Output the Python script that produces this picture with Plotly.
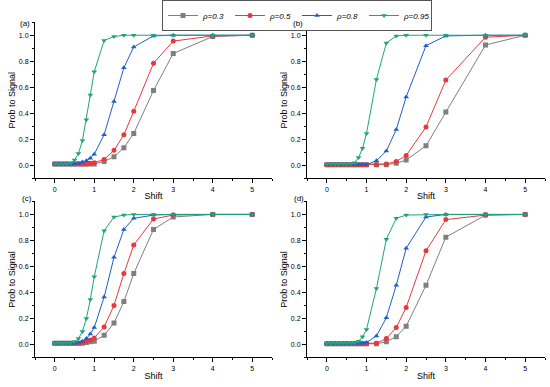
import plotly.graph_objects as go

shift = [0, 0.1, 0.2, 0.3, 0.4, 0.5, 0.6, 0.7, 0.8, 0.9, 1.0, 1.25, 1.5, 1.75, 2.0, 2.5, 3, 4, 5]
series_names = ["ρ=0.3", "ρ=0.5", "ρ=0.8", "ρ=0.95"]
panel_labels = ["(a)", "(b)", "(c)", "(d)"]

# panel (a)
a_r03 = [0.01, 0.01, 0.01, 0.01, 0.01, 0.01, 0.01, 0.01, 0.01, 0.01, 0.01, 0.03, 0.065, 0.135, 0.245, 0.575, 0.86, 0.99, 1.0]
a_r05 = [0.01, 0.01, 0.01, 0.01, 0.01, 0.01, 0.01, 0.01, 0.01, 0.015, 0.02, 0.045, 0.115, 0.235, 0.415, 0.785, 0.955, 0.995, 1.0]
a_r08 = [0.01, 0.01, 0.01, 0.01, 0.01, 0.01, 0.015, 0.025, 0.035, 0.055, 0.085, 0.235, 0.49, 0.75, 0.91, 0.995, 1.0, 1.0, 1.0]
a_r095 = [0.01, 0.01, 0.01, 0.01, 0.015, 0.04, 0.09, 0.19, 0.35, 0.54, 0.72, 0.96, 0.99, 1.0, 1.0, 1.0, 1.0, 1.0, 1.0]
# panel (b)
b_r03 = [0.005, 0.005, 0.005, 0.005, 0.005, 0.005, 0.005, 0.005, 0.005, 0.005, 0.005, 0.005, 0.005, 0.015, 0.04, 0.15, 0.41, 0.925, 1.0]
b_r05 = [0.005, 0.005, 0.005, 0.005, 0.005, 0.005, 0.005, 0.005, 0.005, 0.005, 0.005, 0.005, 0.01, 0.03, 0.075, 0.295, 0.655, 0.985, 1.0]
b_r08 = [0.005, 0.005, 0.005, 0.005, 0.005, 0.005, 0.005, 0.005, 0.005, 0.005, 0.005, 0.035, 0.11, 0.275, 0.525, 0.92, 0.995, 1.0, 1.0]
b_r095 = [0.01, 0.01, 0.01, 0.01, 0.01, 0.01, 0.01, 0.02, 0.06, 0.13, 0.245, 0.66, 0.94, 0.995, 1.0, 1.0, 1.0, 1.0, 1.0]
# panel (c)
c_r03 = [0.01, 0.01, 0.01, 0.01, 0.01, 0.01, 0.01, 0.01, 0.015, 0.02, 0.025, 0.07, 0.165, 0.33, 0.545, 0.885, 0.98, 1.0, 1.0]
c_r05 = [0.01, 0.01, 0.01, 0.01, 0.01, 0.01, 0.01, 0.015, 0.025, 0.035, 0.05, 0.135, 0.30, 0.545, 0.765, 0.965, 0.995, 1.0, 1.0]
c_r08 = [0.01, 0.01, 0.01, 0.01, 0.01, 0.01, 0.015, 0.025, 0.045, 0.08, 0.13, 0.365, 0.67, 0.885, 0.97, 0.995, 1.0, 1.0, 1.0]
c_r095 = [0.01, 0.01, 0.01, 0.01, 0.012, 0.02, 0.045, 0.10, 0.20, 0.345, 0.52, 0.875, 0.98, 0.995, 1.0, 1.0, 1.0, 1.0, 1.0]
# panel (d)
d_r03 = [0.005, 0.005, 0.005, 0.005, 0.005, 0.005, 0.005, 0.005, 0.005, 0.005, 0.005, 0.005, 0.02, 0.06, 0.14, 0.455, 0.825, 0.995, 1.0]
d_r05 = [0.005, 0.005, 0.005, 0.005, 0.005, 0.005, 0.005, 0.005, 0.005, 0.005, 0.005, 0.01, 0.045, 0.13, 0.285, 0.72, 0.96, 0.995, 1.0]
d_r08 = [0.01, 0.01, 0.01, 0.01, 0.01, 0.01, 0.01, 0.01, 0.01, 0.01, 0.015, 0.065, 0.205, 0.455, 0.74, 0.98, 1.0, 1.0, 1.0]
d_r095 = [0.01, 0.01, 0.01, 0.01, 0.01, 0.01, 0.01, 0.01, 0.025, 0.06, 0.115, 0.43, 0.81, 0.97, 0.995, 1.0, 1.0, 1.0, 1.0]

panels = [
    [a_r03, a_r05, a_r08, a_r095],
    [b_r03, b_r05, b_r08, b_r095],
    [c_r03, c_r05, c_r08, c_r095],
    [d_r03, d_r05, d_r08, d_r095],
]

colors = ["#7f7f7f", "#e8383d", "#1f5fc8", "#1ea57b"]
symbols = ["square", "circle", "triangle-up", "triangle-down"]

W, H = 550, 387
def px_x(a, b):
    return [a / W, b / W]
def px_y(top, bottom):
    return [1 - bottom / H, 1 - top / H]

domains = [
    (px_x(35, 272), px_y(16.5, 175)),
    (px_x(307, 545), px_y(16.5, 175)),
    (px_x(35, 272), px_y(198.5, 357)),
    (px_x(307, 545), px_y(198.5, 357)),
]
label_pos = [(25, 18), (298, 18), (27, 196), (299, 196)]

fig = go.Figure()
font_family = "Liberation Sans, Arial, sans-serif"

for p, data in enumerate(panels):
    xa = "x" if p == 0 else f"x{p+1}"
    ya = "y" if p == 0 else f"y{p+1}"
    for s, vals in enumerate(data):
        fig.add_trace(go.Scatter(
            x=shift, y=vals, mode="lines+markers",
            name=f"<i>{series_names[s]}</i>",
            line=dict(color=colors[s], width=1),
            marker=dict(symbol=symbols[s], size=5, color=colors[s]),
            xaxis=xa, yaxis=ya, showlegend=(p == 0),
        ))

layout_axes = {}
for p, (dx, dy) in enumerate(domains):
    xk = "xaxis" if p == 0 else f"xaxis{p+1}"
    yk = "yaxis" if p == 0 else f"yaxis{p+1}"
    xanchor = "y" if p == 0 else f"y{p+1}"
    yanchor = "x" if p == 0 else f"x{p+1}"
    layout_axes[xk] = dict(
        domain=dx, anchor=xanchor, range=[-0.5, 5.5],
        tickvals=[0, 1, 2, 3, 4, 5], ticks="outside", ticklen=4, tickwidth=1,
        tickcolor="black", showline=True, linecolor="black", linewidth=1,
        showgrid=False, zeroline=False,
        minor=dict(tickvals=[-0.5, 0.5, 1.5, 2.5, 3.5, 4.5, 5.5], ticks="outside", ticklen=2, tickcolor="black"),
        tickfont=dict(size=7, family=font_family, color="black"),
        title=dict(text="Shift", font=dict(size=9, family=font_family, color="black"), standoff=1),
    )
    layout_axes[yk] = dict(
        domain=dy, anchor=yanchor, range=[-0.1, 1.1],
        tickvals=[0, 0.2, 0.4, 0.6, 0.8, 1.0], tickformat=".1f",
        ticks="outside", ticklen=4, tickwidth=1, tickcolor="black",
        showline=True, linecolor="black", linewidth=1,
        showgrid=False, zeroline=False,
        minor=dict(tickvals=[-0.1, 0.1, 0.3, 0.5, 0.7, 0.9, 1.1], ticks="outside", ticklen=2, tickcolor="black"),
        tickfont=dict(size=7, family=font_family, color="black"),
        title=dict(text="Prob to Signal", font=dict(size=9, family=font_family, color="black"), standoff=1),
    )

annotations = []
for p, (lx, ly) in enumerate(label_pos):
    annotations.append(dict(
        text=panel_labels[p], x=lx / W, y=1 - ly / H, xref="paper", yref="paper",
        showarrow=False, font=dict(size=8, family=font_family, color="black"),
        xanchor="center", yanchor="middle",
    ))

fig.update_layout(
    width=W, height=H, margin=dict(l=0, r=0, t=0, b=0),
    paper_bgcolor="white", plot_bgcolor="white",
    showlegend=True,
    legend=dict(
        orientation="h", x=0.54, y=1 - 9.5 / H, xanchor="center", yanchor="middle",
        bordercolor="#555", borderwidth=1, bgcolor="white",
        font=dict(size=8, family=font_family, color="black"),
        itemwidth=30, tracegroupgap=0,
        entrywidth=22, entrywidthmode="pixels",
    ),
    annotations=annotations,
    **layout_axes,
)

fig.write_html("out.html", config={"displayModeBar": False},
               post_script="document.body.style.margin='0';document.body.style.padding='0';")
